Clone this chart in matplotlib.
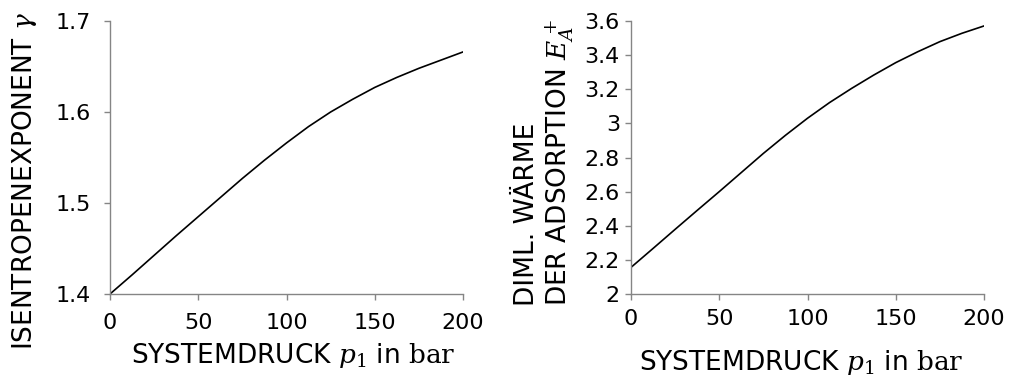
import matplotlib
matplotlib.use("Agg")
import matplotlib.pyplot as plt

# Data
pressure = [0, 12.5, 25, 37.5, 50, 62.5, 75, 87.5, 100,
            112.5, 125, 137.5, 150, 162.5, 175, 187.5, 200]
gamma = [1.400, 1.421, 1.4425, 1.464, 1.485, 1.506, 1.527, 1.547, 1.566,
         1.584, 1.600, 1.614, 1.627, 1.638, 1.648, 1.657, 1.666]
heat_ads = [2.156, 2.267, 2.379, 2.490, 2.600, 2.712, 2.824, 2.930, 3.030,
            3.122, 3.205, 3.283, 3.356, 3.420, 3.479, 3.528, 3.571]

xticks = [0, 50, 100, 150, 200]
xtick_labels = ["0", "50", "100", "150", "200"]
yticks_left = [1.4, 1.5, 1.6, 1.7]
yticks_left_labels = ["1.4", "1.5", "1.6", "1.7"]
yticks_right = [2, 2.2, 2.4, 2.6, 2.8, 3, 3.2, 3.4, 3.6]
yticks_right_labels = ["2", "2.2", "2.4", "2.6", "2.8", "3", "3.2", "3.4", "3.6"]

plt.rcParams['font.family'] = ['DejaVu Sans']
plt.rcParams['mathtext.fontset'] = 'dejavuserif'

fig = plt.figure(figsize=(10.14, 3.83), dpi=100)
W, H = 1014, 383
ax1 = fig.add_axes([110 / W, 1 - 294 / H, 353 / W, 273 / H])
ax2 = fig.add_axes([631 / W, 1 - 294 / H, 353 / W, 273 / H])

spine_col = "#858585"
LBL = 19
for ax in (ax1, ax2):
    for s in ("top", "right"):
        ax.spines[s].set_visible(False)
    for s in ("left", "bottom"):
        ax.spines[s].set_color(spine_col)
        ax.spines[s].set_linewidth(1.0)
    ax.tick_params(direction="out", length=4, width=1, color=spine_col,
                   labelsize=16)
    ax.set_xlim(0, 200)
    ax.set_xticks(xticks)
    ax.set_xticklabels(xtick_labels)

ax1.tick_params(axis="y", pad=10)
ax1.tick_params(axis="x", pad=10)
ax2.tick_params(axis="y", pad=4)
ax2.tick_params(axis="x", pad=7)

xlabel = r"SYSTEMDRUCK $p_1$ in $\mathrm{bar}$"

ax1.plot(pressure, gamma, color="black", lw=1.2)
ax1.set_ylim(1.4, 1.7)
ax1.set_yticks(yticks_left)
ax1.set_yticklabels(yticks_left_labels)
fig.text(293 / W, 1 - 363 / H, xlabel, fontsize=LBL, ha="center", va="baseline")
fig.text(25 / W, 1 - 350 / H, r"ISENTROPENEXPONENT $\gamma$", rotation=90,
         fontsize=LBL, ha="center", va="bottom")

ax2.plot(pressure, heat_ads, color="black", lw=1.2)
ax2.set_ylim(2, 3.6)
ax2.set_yticks(yticks_right)
ax2.set_yticklabels(yticks_right_labels)
fig.text(801 / W, 1 - 370 / H, xlabel, fontsize=LBL, ha="center", va="baseline")
fig.text(545 / W, 1 - 306 / H, "DIML. WÄRME\n" + r"DER ADSORPTION $E_A^+$", rotation=90,
         fontsize=LBL, ha="center", va="bottom", multialignment="left",
         linespacing=1.1)

fig.savefig("out.png", dpi=100)
